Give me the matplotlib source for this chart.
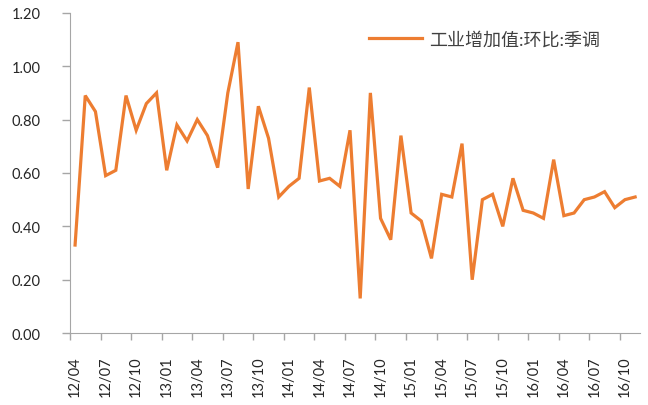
import numpy as np
import matplotlib.pyplot as plt

plt.rcParams['font.family'] = ['Lato', 'Noto Sans CJK SC', 'DejaVu Sans']

# 工业增加值 环比 季调, 2012/04 - 2016/11
months = []
for y in range(12, 17):
    for m in range(1, 13):
        if (y == 12 and m < 4) or (y == 16 and m > 11):
            continue
        months.append("%02d/%02d" % (y, m))

values = [0.33, 0.89, 0.83, 0.59, 0.61, 0.89, 0.76, 0.86, 0.90, 0.61,
          0.78, 0.72, 0.80, 0.74, 0.62, 0.90, 1.09, 0.54, 0.85, 0.73,
          0.51, 0.55, 0.58, 0.92, 0.57, 0.58, 0.55, 0.76, 0.13, 0.90,
          0.43, 0.35, 0.74, 0.45, 0.42, 0.28, 0.52, 0.51, 0.71, 0.20,
          0.50, 0.52, 0.40, 0.58, 0.46, 0.45, 0.43, 0.65, 0.44, 0.45,
          0.50, 0.51, 0.53, 0.47, 0.50, 0.51]

series_name = "工业增加值:环比:季调"
yticks = [0.0, 0.2, 0.4, 0.6, 0.8, 1.0, 1.2]

fig = plt.figure(figsize=(6.48, 4.06), dpi=100)
ax = fig.add_axes([0.108, 0.177, 0.88, 0.789])

x = np.arange(len(values))
ax.plot(x, values, color="#ED7D31", lw=2.3, label=series_name, solid_joinstyle="miter")

ax.set_xlim(-0.5, len(values) - 0.5)
ax.set_ylim(0, 1.2)
ax.set_yticks(yticks)
ax.set_yticklabels(["%.2f" % v for v in yticks])

# tick marks between categories, labels on every third month
ax.set_xticks(np.arange(-0.5, len(values) - 1, 3))
ax.set_xticklabels([])
ax.set_xticks(x[::3], minor=True)
ax.set_xticklabels(months[::3], minor=True, rotation=90)
ax.tick_params(axis="x", which="major", length=5, color="#A6A6A6", width=1, direction="out")
ax.tick_params(axis="x", which="minor", length=0, pad=16, labelsize=10.5, labelcolor="#262626")
ax.tick_params(axis="y", length=6, color="#A6A6A6", width=1, pad=15, labelsize=10.5, labelcolor="#262626")

for s in ["top", "right"]:
    ax.spines[s].set_visible(False)
for s in ["left", "bottom"]:
    ax.spines[s].set_color("#A6A6A6")

leg = ax.legend(loc="upper right", bbox_to_anchor=(0.958, 0.996), frameon=False,
                fontsize=13, handlelength=2.9, handletextpad=0.4)
for t in leg.get_texts():
    t.set_color("#404040")

fig.savefig("out.png", dpi=100)
